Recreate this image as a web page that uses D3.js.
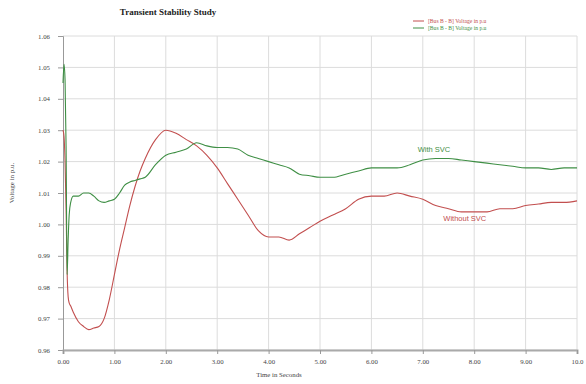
<!DOCTYPE html>
<html>
<head>
<meta charset="utf-8">
<script src="https://cdn.jsdelivr.net/npm/d3@7"></script>
<style>
  html, body { margin: 0; padding: 0; background: #fff; }
  svg { display: block; }
</style>
</head>
<body>
<svg id="chart" width="586" height="384"></svg>
<script>
// Bus voltage after a disturbance, with and without the SVC in service
const timeSec = [0, 0.02, 0.04, 0.06, 0.08, 0.1, 0.12, 0.15, 0.2, 0.3, 0.4, 0.5, 0.6, 0.7, 0.8, 0.9,
  1.0, 1.1, 1.2, 1.3, 1.4, 1.5, 1.6, 1.8, 2.0, 2.2, 2.4, 2.6, 2.8, 3.0, 3.2, 3.4, 3.6, 3.8,
  4.0, 4.2, 4.4, 4.6, 4.8, 5.0, 5.25, 5.5, 5.75, 6.0, 6.25, 6.5, 6.75, 7.0, 7.25, 7.5, 7.75,
  8.0, 8.25, 8.5, 8.75, 9.0, 9.25, 9.5, 9.75, 10.0];

const voltWithoutSvc = [1.030, 1.028, 1.020, 1.005, 0.985, 0.977, 0.975, 0.974, 0.972, 0.969, 0.9675, 0.9665, 0.967, 0.9675, 0.970, 0.976,
  0.984, 0.992, 0.999, 1.006, 1.012, 1.017, 1.021, 1.027, 1.030, 1.029, 1.027, 1.025, 1.022, 1.018, 1.013, 1.008, 1.003, 0.998,
  0.996, 0.996, 0.995, 0.997, 0.999, 1.001, 1.003, 1.005, 1.008, 1.009, 1.009, 1.010, 1.009, 1.008, 1.006, 1.005, 1.004,
  1.004, 1.004, 1.005, 1.005, 1.006, 1.0065, 1.007, 1.007, 1.0075];

const voltWithSvc = [1.045, 1.051, 1.046, 1.025, 0.984, 0.995, 1.003, 1.007, 1.009, 1.009, 1.010, 1.010, 1.009, 1.0075, 1.007, 1.0075,
  1.008, 1.010, 1.0125, 1.0135, 1.014, 1.0145, 1.015, 1.019, 1.022, 1.023, 1.024, 1.026, 1.025, 1.0245, 1.0245, 1.024, 1.022, 1.021,
  1.020, 1.019, 1.018, 1.016, 1.0155, 1.015, 1.015, 1.016, 1.017, 1.018, 1.018, 1.018, 1.019, 1.0205, 1.021, 1.021, 1.0205,
  1.020, 1.0195, 1.019, 1.0185, 1.018, 1.018, 1.0175, 1.018, 1.018];

const xTicks = [0, 1, 2, 3, 4, 5, 6, 7, 8, 9, 10];
const xTickLabels = ["0.00", "1.00", "2.00", "3.00", "4.00", "5.00", "6.00", "7.00", "8.00", "9.00", "10.0"];
const yTicks = [0.96, 0.97, 0.98, 0.99, 1.00, 1.01, 1.02, 1.03, 1.04, 1.05, 1.06];

const seriesNames = ["[Bus B  -  B] Voltage in p.u", "[Bus B  -  B] Voltage in p.u"];
const curveLabels = ["Without SVC", "With SVC"];

const RED = "#c24f4f";
const GREEN = "#3f8f45";

const svg = d3.select("#chart");
const margin = { left: 63, right: 9, top: 36, bottom: 34 };
const W = 586, H = 384;

const x = d3.scaleLinear().domain([0, 10]).range([margin.left, W - margin.right]);
const y = d3.scaleLinear().domain([0.96, 1.06]).range([H - margin.bottom, margin.top]);

// grid
const grid = svg.append("g");
grid.selectAll("line.h").data(yTicks).join("line")
  .attr("x1", x(0)).attr("x2", x(10))
  .attr("y1", d => y(d)).attr("y2", d => y(d))
  .attr("stroke", "#dcdcdc").attr("stroke-width", 1);
grid.selectAll("line.v").data(xTicks.slice(1)).join("line")
  .attr("x1", d => x(d)).attr("x2", d => x(d))
  .attr("y1", y(1.06)).attr("y2", y(0.96))
  .attr("stroke", "#dcdcdc").attr("stroke-width", 1);

// axes
const yAxis = d3.axisLeft(y).tickValues(yTicks).tickFormat(d3.format(".2f")).tickSize(5).tickPadding(8);
const gy = svg.append("g").attr("transform", `translate(${x(0)},0)`).call(yAxis);
gy.select(".domain").attr("stroke", "#999");
gy.selectAll(".tick line").attr("stroke", "#999");
gy.selectAll(".tick text").attr("fill", "#444").style("font-family", "Liberation Serif").style("font-size", "6.8px");

const xAxis = d3.axisBottom(x).tickValues(xTicks).tickFormat((d, i) => xTickLabels[i]).tickSize(4).tickPadding(5);
const gx = svg.append("g").attr("transform", `translate(0,${y(0.96)})`).call(xAxis);
gx.select(".domain").attr("stroke", "#aaa").attr("stroke-width", 2);
gx.selectAll(".tick line").attr("stroke", "#999");
gx.selectAll(".tick text").attr("fill", "#444").style("font-family", "Liberation Serif").style("font-size", "6.8px");

// curves
const line = d3.line().x((d, i) => x(timeSec[i])).y(d => y(d)).curve(d3.curveMonotoneX);
svg.append("path").datum(voltWithoutSvc).attr("d", line)
  .attr("fill", "none").attr("stroke", RED).attr("stroke-width", 1.1).attr("stroke-linejoin", "round");
svg.append("path").datum(voltWithSvc).attr("d", line)
  .attr("fill", "none").attr("stroke", GREEN).attr("stroke-width", 1.1).attr("stroke-linejoin", "round");

// curve labels
svg.append("text").attr("x", x(6.9)).attr("y", y(1.0232)).text(curveLabels[1])
  .attr("fill", GREEN).style("font-family", "Liberation Sans").style("font-size", "7.5px");
svg.append("text").attr("x", x(7.4)).attr("y", y(1.001)).text(curveLabels[0])
  .attr("fill", RED).style("font-family", "Liberation Sans").style("font-size", "7.5px");

// title and axis titles
svg.append("text").attr("x", 168).attr("y", 15).attr("text-anchor", "middle")
  .text("Transient Stability Study")
  .style("font-family", "Liberation Serif").style("font-weight", "bold").style("font-size", "9px").attr("fill", "#222");
svg.append("text").attr("x", 279).attr("y", 377).attr("text-anchor", "middle")
  .text("Time in Seconds")
  .style("font-family", "Liberation Serif").style("font-size", "6.8px").attr("fill", "#444");
svg.append("text").attr("transform", "translate(14,183) rotate(-90)").attr("text-anchor", "middle")
  .text("Voltage in p.u.")
  .style("font-family", "Liberation Serif").style("font-size", "7px").attr("fill", "#444");

// legend
const legend = svg.append("g");
[RED, GREEN].forEach((c, i) => {
  const ly = 21 + i * 7;
  legend.append("line").attr("x1", 413).attr("x2", 424).attr("y1", ly).attr("y2", ly)
    .attr("stroke", c).attr("stroke-width", 1);
  legend.append("text").attr("x", 428).attr("y", ly + 2).text(seriesNames[i])
    .attr("fill", c).style("font-family", "Liberation Serif").style("font-size", "5.6px");
});
</script>
</body>
</html>
